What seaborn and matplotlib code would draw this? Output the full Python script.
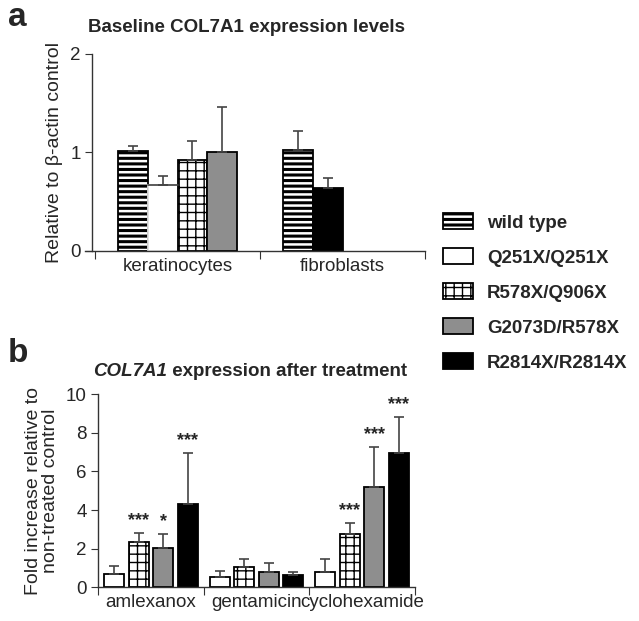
import numpy as np
import pandas as pd
import matplotlib
matplotlib.use("Agg")
import matplotlib.pyplot as plt
import seaborn as sns
from matplotlib.patches import Patch

# ---- data ----
genotypes = ["wild type", "Q251X/Q251X", "R578X/Q906X", "G2073D/R578X", "R2814X/R2814X"]

# panel a: baseline expression
cells = ["keratinocytes", "fibroblasts"]
a_cell = ["keratinocytes", "keratinocytes", "keratinocytes", "keratinocytes", "fibroblasts", "fibroblasts"]
a_geno = ["wild type", "Q251X/Q251X", "R578X/Q906X", "G2073D/R578X", "wild type", "R2814X/R2814X"]
a_mean = [1.01, 0.67, 0.92, 1.00, 1.02, 0.64]
a_err = [0.05, 0.09, 0.20, 0.46, 0.20, 0.10]

# panel b: fold increase after treatment
drugs = ["amlexanox", "gentamicin", "cyclohexamide"]
b_geno = ["Q251X/Q251X", "R578X/Q906X", "G2073D/R578X", "R2814X/R2814X"]
b_mean = {
    "amlexanox": [0.69, 2.33, 2.05, 4.32],
    "gentamicin": [0.55, 1.07, 0.81, 0.64],
    "cyclohexamide": [0.78, 2.75, 5.22, 6.98],
}
b_err = {
    "amlexanox": [0.39, 0.50, 0.70, 2.62],
    "gentamicin": [0.30, 0.41, 0.43, 0.14],
    "cyclohexamide": [0.70, 0.58, 2.07, 1.86],
}
b_stars = {
    "amlexanox": ["", "***", "*", "***"],
    "gentamicin": ["", "", "", ""],
    "cyclohexamide": ["", "***", "***", "***"],
}

styles = {
    "wild type": dict(facecolor="white", edgecolor="black", hatch="---"),
    "Q251X/Q251X": dict(facecolor="white", edgecolor="black", hatch=None),
    "R578X/Q906X": dict(facecolor="white", edgecolor="black", hatch="++"),
    "G2073D/R578X": dict(facecolor="#8e8e8e", edgecolor="black", hatch=None),
    "R2814X/R2814X": dict(facecolor="black", edgecolor="black", hatch=None),
}

sns.set_style("white")
plt.rcParams["font.family"] = ["Liberation Sans", "DejaVu Sans"]
plt.rcParams["hatch.linewidth"] = 1.0
AXC = "#333333"
FS = 13.5


def style_bar(p, geno, faint=False):
    st = styles[geno]
    p.set_facecolor(st["facecolor"])
    p.set_edgecolor(st["edgecolor"])
    p.set_hatch(st["hatch"])
    p.set_linewidth(1.3)
    if geno == "wild type" and hasattr(p, "set_hatch_linewidth"):
        p.set_hatch_linewidth(2.2)
    if faint:
        p.set_edgecolor("#dddddd")


def setup_axis(ax, n, ymax, step):
    for s in ["top", "right"]:
        ax.spines[s].set_visible(False)
    for s in ["left", "bottom"]:
        ax.spines[s].set_color(AXC)
        ax.spines[s].set_linewidth(1.0)
    ax.set_ylim(0, ymax)
    ax.set_yticks(np.arange(0, ymax + 0.01, step))
    ax.tick_params(axis="y", direction="out", length=5, color=AXC, labelsize=FS, pad=3, left=True)
    ax.set_xticks(np.arange(-0.5, n, 1.0))
    ax.set_xticklabels([])
    ax.set_xticks(np.arange(n), minor=True)
    ax.tick_params(axis="x", which="major", direction="out", length=6, color=AXC, bottom=True)
    ax.tick_params(axis="x", which="minor", length=0, labelsize=FS, pad=5)


fig = plt.figure(figsize=(6.39, 6.21), dpi=100)
W, H = 639, 621

# ---------- panel a ----------
axa = fig.add_axes([85 / W, (H - 250.7) / H, 340 / W, 196.7 / H])
slot = []
seen = {}
for c in a_cell:
    slot.append(seen.get(c, 0))
    seen[c] = seen.get(c, 0) + 1
df_a = pd.DataFrame({"cell": a_cell, "geno": a_geno, "mean": a_mean, "err": a_err, "slot": slot})
sns.barplot(data=df_a, x="cell", y="mean", hue="slot", order=cells, hue_order=[0, 1, 2, 3],
            width=0.727, gap=0, dodge=True, legend=False, ax=axa, errorbar=None)
for s, cont in zip([0, 1, 2, 3], axa.containers):
    for p in cont.patches:
        xc = p.get_x() + p.get_width() / 2
        ci = int(round(xc))
        row = df_a[(df_a["cell"] == cells[ci]) & (df_a["slot"] == s)]
        if row.empty:
            continue
        row = row.iloc[0]
        faint = row["geno"] == "Q251X/Q251X"
        style_bar(p, row["geno"], faint=faint)
        if faint:
            axa.plot([p.get_x(), p.get_x() + p.get_width()], [row["mean"]] * 2, color="#444444", lw=1.2, zorder=3)
        axa.errorbar(xc, row["mean"], yerr=[[0], [row["err"]]], fmt="none", ecolor="#444444",
                     elinewidth=1.2, capsize=3.5, capthick=1.2, zorder=1)
setup_axis(axa, 2, 2, 1)
axa.set_xlim(-0.5 - 10 / 165, 1.5)
axa.spines["left"].set_position(("data", -0.5 - 3 / 165))
axa.set_xticklabels(cells, minor=True)
axa.set_xlabel("")
axa.set_ylabel("Relative to β-actin control", fontsize=14, labelpad=5)
fig.text(88 / W, 1 - 27 / H, "Baseline COL7A1 expression levels", fontsize=13.5, fontweight="bold",
         ha="left", va="center")
fig.text(8 / W, 1 - 17 / H, "a", fontsize=24, fontweight="bold", ha="left", va="center")

# ---------- panel b ----------
axb = fig.add_axes([98 / W, (H - 587.3) / H, 317 / W, 193 / H])
rows = []
for d in drugs:
    for g, m, e, st in zip(b_geno, b_mean[d], b_err[d], b_stars[d]):
        rows.append({"drug": d, "geno": g, "mean": m, "err": e, "star": st})
df_b = pd.DataFrame(rows)
sns.barplot(data=df_b, x="drug", y="mean", hue="geno", order=drugs, hue_order=b_geno,
            width=0.927, gap=0.18, dodge=True, legend=False, ax=axb, errorbar=None)
for g, cont in zip(b_geno, axb.containers):
    for p in cont.patches:
        xc = p.get_x() + p.get_width() / 2
        d = drugs[int(round(xc))]
        row = df_b[(df_b["drug"] == d) & (df_b["geno"] == g)].iloc[0]
        style_bar(p, g)
        axb.errorbar(xc, row["mean"], yerr=[[0], [row["err"]]], fmt="none", ecolor="#444444",
                     elinewidth=1.2, capsize=3.5, capthick=1.2, zorder=1)
        if row["star"]:
            axb.text(xc, row["mean"] + row["err"] + 0.2, row["star"], ha="center", va="bottom",
                     fontsize=13, fontweight="bold")
setup_axis(axb, 3, 10, 2)
axb.set_xlim(-0.5, 2.5)
axb.set_xticklabels(drugs, minor=True)
axb.set_xlabel("")
axb.set_ylabel("Fold increase relative to\nnon-treated control", fontsize=14, labelpad=5,
               linespacing=1.0)
t1 = fig.text(93 / W, 1 - 372 / H, "COL7A1", fontsize=13.5, fontweight="bold", fontstyle="italic",
              ha="left", va="center")
axb.annotate(" expression after treatment", xy=(1, 0), xycoords=t1, ha="left", va="bottom",
             fontsize=13.5, fontweight="bold")
fig.text(8 / W, 1 - 353 / H, "b", fontsize=24, fontweight="bold", ha="left", va="center")

# ---------- legend ----------
handles = []
for g in genotypes:
    st = styles[g]
    h = Patch(facecolor=st["facecolor"], edgecolor=st["edgecolor"], hatch=st["hatch"], linewidth=1.3, label=g)
    if g == "wild type" and hasattr(h, "set_hatch_linewidth"):
        h.set_hatch_linewidth(2.2)
    handles.append(h)
leg = fig.legend(handles=handles, loc="upper left", bbox_to_anchor=(443 / W, 1 - 213 / H),
                 frameon=False, borderpad=0, borderaxespad=0, handlelength=1.6, handleheight=0.95,
                 handletextpad=0.75, labelspacing=0.88, prop={"size": 13.5, "weight": "bold"})
for lp in leg.get_patches():
    if lp.get_hatch() == "---" and hasattr(lp, "set_hatch_linewidth"):
        lp.set_hatch_linewidth(2.2)

fig.savefig("out.png", dpi=100)
